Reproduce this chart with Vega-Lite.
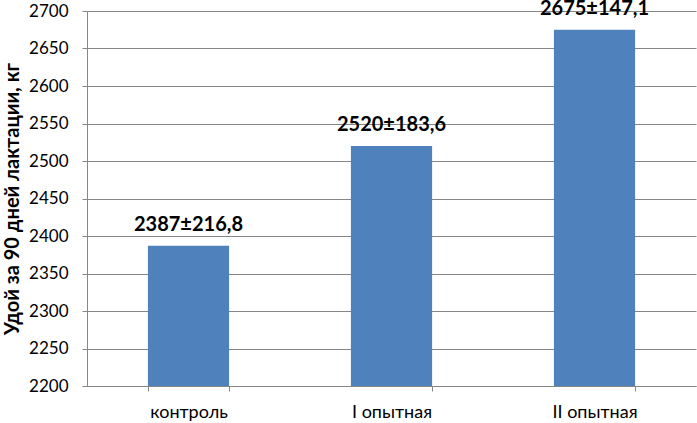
{
  "$schema": "https://vega.github.io/schema/vega-lite/v6.json",
  "width": 609,
  "height": 375,
  "autosize": "none",
  "padding": {"left": 87, "top": 11, "right": 1, "bottom": 37},
  "background": "white",
  "config": {"view": {"stroke": null}, "font": "Lato"},
  "data": {"values": [
    {"group": "контроль", "value": 2387, "label": "2387±216,8"},
    {"group": "I опытная", "value": 2520, "label": "2520±183,6"},
    {"group": "II опытная", "value": 2675, "label": "2675±147,1"}
  ]},
  "encoding": {
    "x": {"field": "group", "type": "nominal", "sort": null,
      "scale": {"paddingInner": 0.6, "paddingOuter": 0.3},
      "axis": {"title": null, "labelAngle": 0, "labelFontSize": 18, "labelColor": "#000000", "labelFont": "Lato",
        "domainColor": "#868686", "tickColor": "#868686", "tickBand": "extent", "tickSize": 5, "labelPadding": 12, "grid": false, "zindex": 1}},
    "y": {"field": "value", "type": "quantitative",
      "scale": {"domain": [2200, 2700], "nice": false, "zero": false},
      "axis": {"title": "Удой за 90 дней лактации, кг", "titleFontSize": 20, "titleFontWeight": "bold", "titleColor": "#000000",
        "titleFont": "Lato", "titlePadding": 6, "format": "d",
        "values": [2200, 2250, 2300, 2350, 2400, 2450, 2500, 2550, 2600, 2650, 2700],
        "labelFontSize": 17, "labelColor": "#000000", "labelFont": "Lato", "labelPadding": 14,
        "domainColor": "#868686", "tickColor": "#868686", "tickSize": 5,
        "grid": true, "gridColor": "#868686", "gridWidth": 1}}
  },
  "layer": [
    {"mark": {"type": "bar", "color": "#4F81BD"},
      "encoding": {"y2": {"datum": 2200}}},
    {"mark": {"type": "text", "baseline": "bottom", "dy": -11, "fontSize": 20, "fontWeight": "bold", "color": "#000000", "font": "Lato"},
      "encoding": {"text": {"field": "label"}}}
  ]
}
